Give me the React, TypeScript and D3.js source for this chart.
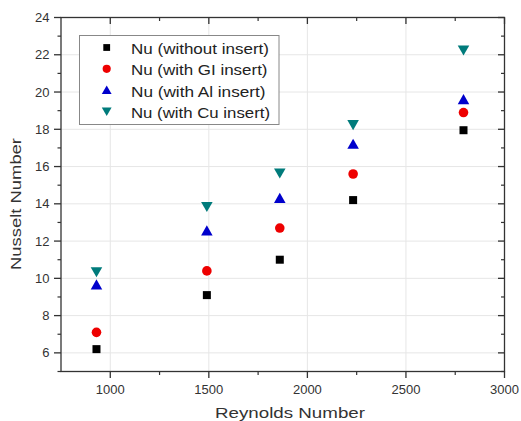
import React from "react";
import * as d3 from "d3";

const reynolds = [930, 1490, 1860, 2232, 2792];
const nuWithout = [6.2, 9.1, 11.0, 14.2, 17.95];
const nuGI = [7.1, 10.4, 12.7, 15.6, 18.9];
const nuAl = [9.65, 12.55, 14.3, 17.2, 19.6];
const nuCu = [10.35, 13.85, 15.65, 18.25, 22.25];
const seriesNames = [
  "Nu (without insert)",
  "Nu (with GI insert)",
  "Nu (with Al insert)",
  "Nu (with Cu insert)",
];
const xTicks = [1000, 1500, 2000, 2500, 3000];
const xMinor = [1250, 1750, 2250, 2750];
const yTicks = [6, 8, 10, 12, 14, 16, 18, 20, 22, 24];
const yMinor = [5, 7, 9, 11, 13, 15, 17, 19, 21, 23];

const W = 521;
const H = 421;
const L = 61, R = 504.5, T = 17.5, B = 371.5;
const FONT = "'Liberation Sans', Arial, sans-serif";

type Shape = "square" | "circle" | "up" | "down";
const styles: { shape: Shape; color: string }[] = [
  { shape: "square", color: "#000000" },
  { shape: "circle", color: "#ee0000" },
  { shape: "up", color: "#0000cc" },
  { shape: "down", color: "#007b7b" },
];
const legendLengths = [138, 136.5, 134.5, 139];

function Marker({ shape, color, x, y, k = 1 }: { shape: Shape; color: string; x: number; y: number; k?: number }) {
  if (shape === "square") return <rect x={x - 4 * k} y={y - 4 * k} width={8 * k} height={8 * k} fill={color} />;
  if (shape === "circle") return <circle cx={x} cy={y} r={4.8 * k} fill={color} />;
  const s = 5.5 * k;
  if (shape === "up")
    return <path d={`M${x},${y - s} L${x + s * 1.05},${y + s * 0.85} L${x - s * 1.05},${y + s * 0.85} Z`} fill={color} />;
  return <path d={`M${x},${y + s} L${x + s * 1.05},${y - s * 0.85} L${x - s * 1.05},${y - s * 0.85} Z`} fill={color} />;
}

export default function App() {
  const x = d3.scaleLinear().domain([750, 3000]).range([L, R]);
  const y = d3.scaleLinear().domain([5, 24]).range([B, T]);
  const series = [nuWithout, nuGI, nuAl, nuCu];
  const axisColor = "#333";
  const gridColor = "#e6e6e6";
  return (
    <svg width={W} height={H} style={{ position: "absolute", left: 0, top: 0, background: "#fff" }}>
      {/* grid */}
      {xTicks.filter((t) => t < 3000).map((t) => (
        <line key={"gx" + t} x1={x(t)} x2={x(t)} y1={T} y2={B} stroke={gridColor} strokeWidth={1} />
      ))}
      {yTicks.filter((t) => t < 24).map((t) => (
        <line key={"gy" + t} x1={L} x2={R} y1={y(t)} y2={y(t)} stroke={gridColor} strokeWidth={1} />
      ))}
      {/* frame */}
      <rect x={L} y={T} width={R - L} height={B - T} fill="none" stroke={axisColor} strokeWidth={1.3} />
      {/* bottom ticks (outward) & top ticks (inward) */}
      {xTicks.map((t) => (
        <g key={"xt" + t}>
          <line x1={x(t)} x2={x(t)} y1={B} y2={B + 6.5} stroke={axisColor} strokeWidth={1.3} />
          <line x1={x(t)} x2={x(t)} y1={T} y2={T + 6.5} stroke={axisColor} strokeWidth={1.3} />
          <text x={x(t)} y={B + 22} textAnchor="middle" fontFamily={FONT} fontSize={13} fill="#333">{t}</text>
        </g>
      ))}
      {xMinor.map((t) => (
        <g key={"xm" + t}>
          <line x1={x(t)} x2={x(t)} y1={B} y2={B + 3.5} stroke={axisColor} strokeWidth={1.2} />
          <line x1={x(t)} x2={x(t)} y1={T} y2={T + 3.5} stroke={axisColor} strokeWidth={1.2} />
        </g>
      ))}
      {/* left ticks (outward) & right ticks (inward) */}
      {yTicks.map((t) => (
        <g key={"yt" + t}>
          <line x1={L - 7} x2={L} y1={y(t)} y2={y(t)} stroke={axisColor} strokeWidth={1.3} />
          <line x1={R - 6.5} x2={R} y1={y(t)} y2={y(t)} stroke={axisColor} strokeWidth={1.3} />
          <text x={L - 11.5} y={y(t) + 4.5} textAnchor="end" fontFamily={FONT} fontSize={13} fill="#333">{t}</text>
        </g>
      ))}
      {yMinor.map((t) => (
        <g key={"ym" + t}>
          <line x1={L - 3.5} x2={L} y1={y(t)} y2={y(t)} stroke={axisColor} strokeWidth={1.2} />
          <line x1={R - 3.5} x2={R} y1={y(t)} y2={y(t)} stroke={axisColor} strokeWidth={1.2} />
        </g>
      ))}
      {/* axis titles */}
      <text x={290} y={418} textAnchor="middle" fontFamily={FONT} fontSize={15.5} fill="#333"
        textLength={150} lengthAdjust="spacingAndGlyphs">Reynolds Number</text>
      <text transform={`translate(21,204) rotate(-90)`} textAnchor="middle" fontFamily={FONT} fontSize={15.5} fill="#333"
        textLength={132} lengthAdjust="spacingAndGlyphs">Nusselt Number</text>
      {/* data */}
      {series.map((vals, si) =>
        vals.map((v, i) => (
          <Marker key={si + "-" + i} shape={styles[si].shape} color={styles[si].color} x={x(reynolds[i])} y={y(v)} />
        ))
      )}
      {/* legend */}
      <rect x={79.5} y={35.5} width={199.5} height={89} fill="#fff" stroke="#888" strokeWidth={1} />
      {seriesNames.map((name, i) => (
        <g key={"lg" + i}>
          <Marker shape={styles[i].shape} color={styles[i].color} x={106.7} y={47.5 + i * 21.3} k={0.85} />
          <text x={131} y={47.5 + i * 21.3 + 6.5} fontFamily={FONT} fontSize={15} fill="#222"
            textLength={legendLengths[i]} lengthAdjust="spacingAndGlyphs">{name}</text>
        </g>
      ))}
    </svg>
  );
}
